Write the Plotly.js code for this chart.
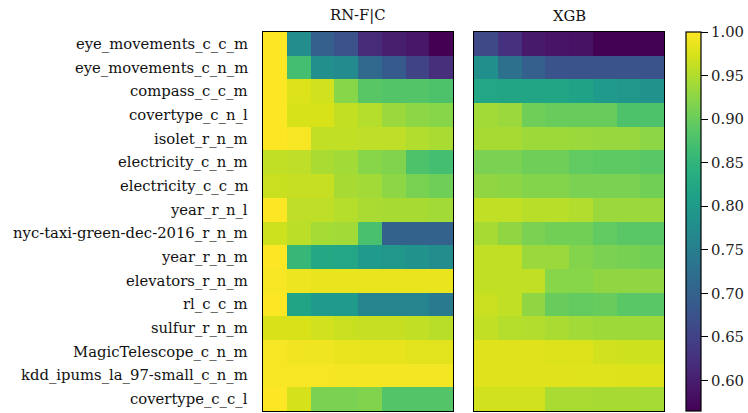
<!DOCTYPE html>
<html>
<head>
<meta charset="utf-8">
<script src="https://cdn.plot.ly/plotly-3.0.1.min.js"></script>
<style>html,body{margin:0;padding:0;background:#fff;}#chart{width:748px;height:413px;}</style>
</head>
<body>
<div id="chart"></div>
<script>
const datasets = [
  "eye_movements_c_c_m","eye_movements_c_n_m","compass_c_c_m","covertype_c_n_l",
  "isolet_r_n_m","electricity_c_n_m","electricity_c_c_m","year_r_n_l",
  "nyc-taxi-green-dec-2016_r_n_m","year_r_n_m","elevators_r_n_m","rl_c_c_m",
  "sulfur_r_n_m","MagicTelescope_c_n_m","kdd_ipums_la_97-small_c_n_m","covertype_c_c_l"
];
const columns = [0,1,2,3,4,5,6,7];
const modelTitles = ["RN-F|C", "XGB"];

const rnfcValues = [
  [1.000,0.774,0.695,0.674,0.617,0.600,0.591,0.565],
  [1.000,0.870,0.780,0.770,0.713,0.687,0.652,0.622],
  [1.000,0.978,0.970,0.922,0.887,0.883,0.883,0.878],
  [1.000,0.974,0.974,0.961,0.952,0.935,0.926,0.922],
  [1.000,0.995,0.960,0.960,0.958,0.958,0.950,0.945],
  [0.960,0.958,0.945,0.940,0.922,0.918,0.878,0.870],
  [0.965,0.963,0.963,0.943,0.940,0.926,0.912,0.905],
  [1.000,0.958,0.958,0.952,0.945,0.943,0.943,0.940],
  [0.968,0.956,0.942,0.940,0.874,0.700,0.700,0.702],
  [1.000,0.856,0.826,0.822,0.800,0.795,0.785,0.775],
  [0.995,0.988,0.987,0.987,0.987,0.987,0.986,0.986],
  [1.000,0.818,0.800,0.800,0.760,0.760,0.760,0.742],
  [0.975,0.975,0.970,0.965,0.963,0.963,0.960,0.955],
  [0.995,0.992,0.990,0.986,0.985,0.985,0.982,0.982],
  [0.996,0.995,0.995,0.994,0.994,0.994,0.993,0.993],
  [1.000,0.972,0.913,0.913,0.918,0.883,0.883,0.883]
];
const xgbValues = [
  [0.660,0.626,0.595,0.588,0.585,0.566,0.566,0.566],
  [0.782,0.726,0.695,0.678,0.676,0.676,0.675,0.675],
  [0.822,0.820,0.820,0.820,0.815,0.800,0.795,0.785],
  [0.940,0.935,0.905,0.900,0.900,0.900,0.878,0.878],
  [0.943,0.943,0.937,0.937,0.935,0.933,0.933,0.926],
  [0.913,0.913,0.905,0.905,0.895,0.892,0.892,0.888],
  [0.928,0.925,0.920,0.920,0.913,0.913,0.913,0.907],
  [0.960,0.960,0.955,0.955,0.950,0.935,0.935,0.935],
  [0.943,0.928,0.913,0.907,0.907,0.895,0.888,0.888],
  [0.960,0.960,0.935,0.935,0.920,0.913,0.911,0.907],
  [0.960,0.960,0.960,0.922,0.922,0.928,0.928,0.928],
  [0.965,0.960,0.928,0.900,0.896,0.900,0.888,0.888],
  [0.960,0.952,0.950,0.945,0.940,0.937,0.937,0.937],
  [0.980,0.980,0.980,0.978,0.978,0.970,0.968,0.968],
  [0.980,0.980,0.980,0.980,0.979,0.979,0.978,0.978],
  [0.970,0.970,0.970,0.945,0.945,0.943,0.943,0.942]
];
const cbTicks = [0.60,0.65,0.70,0.75,0.80,0.85,0.90,0.95,1.00];
const zMin = 0.565, zMax = 1.0;

const FONT = "'DejaVu Serif', serif";
const FS = 14.8;
const W = 748, H = 413;
const px = v => v / W;

const common = {
  type: "heatmap", x: columns, y: datasets, colorscale: "Viridis",
  zmin: zMin, zmax: zMax, xgap: 0, ygap: 0
};
const traces = [
  Object.assign({}, common, {z: rnfcValues, xaxis: "x", yaxis: "y", showscale: false}),
  Object.assign({}, common, {z: xgbValues, xaxis: "x2", yaxis: "y2", showscale: true,
    colorbar: {
      x: px(686), xanchor: "left", y: 0.5, yanchor: "middle", len: 1, lenmode: "fraction",
      thickness: 15, thicknessmode: "pixels", xpad: 0, ypad: 0,
      outlinecolor: "#000", outlinewidth: 1.2,
      tickvals: cbTicks, ticktext: cbTicks.map(v => v.toFixed(2)),
      ticks: "outside", ticklen: 7, tickwidth: 1, tickcolor: "#000",
      tickfont: {family: FONT, size: FS, color: "#222"}
    }})
];

const axisFrame = {showline: true, mirror: true, linecolor: "#000", linewidth: 1.3,
  showgrid: false, zeroline: false};

const rowLabels = datasets.map(name => ({
  text: name, xref: "paper", yref: "y", x: px(250), y: name,
  xanchor: "right", yanchor: "middle", showarrow: false,
  font: {family: FONT, size: FS, color: "#111"}
}));

const layout = {
  width: W, height: H,
  font: {family: FONT, size: FS, color: "#111"},
  margin: {l: 0, r: 0, t: 32, b: 2, pad: 0},
  paper_bgcolor: "#fff", plot_bgcolor: "#fff",
  showlegend: false,
  xaxis: Object.assign({}, axisFrame, {domain: [px(263), px(453)], showticklabels: false, ticks: "", range: [-0.5, 7.5]}),
  xaxis2: Object.assign({}, axisFrame, {domain: [px(474), px(664)], showticklabels: false, ticks: "", range: [-0.5, 7.5]}),
  yaxis: Object.assign({}, axisFrame, {autorange: "reversed", type: "category",
    showticklabels: false, ticks: ""}),
  yaxis2: Object.assign({}, axisFrame, {anchor: "x2", matches: "y", autorange: "reversed", type: "category",
    showticklabels: false, ticks: ""}),
  annotations: [
    {text: modelTitles[0], xref: "paper", yref: "paper", x: px(358), y: 1, xanchor: "center", yanchor: "bottom",
     yshift: 6, showarrow: false, font: {family: FONT, size: FS, color: "#111"}},
    {text: modelTitles[1], xref: "paper", yref: "paper", x: px(569), y: 1, xanchor: "center", yanchor: "bottom",
     yshift: 6, showarrow: false, font: {family: FONT, size: FS, color: "#111"}}
  ].concat(rowLabels)
};
Plotly.newPlot("chart", traces, layout, {displayModeBar: false, staticPlot: true});
</script>
</body>
</html>
